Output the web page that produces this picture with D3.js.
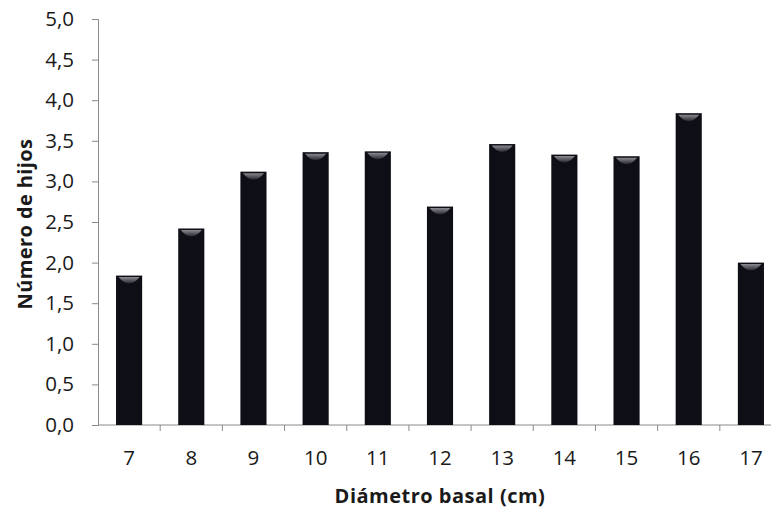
<!DOCTYPE html>
<html>
<head>
<meta charset="utf-8">
<script src="https://cdn.jsdelivr.net/npm/d3@7"></script>
<style>
  html, body { margin: 0; padding: 0; background: #fff; }
  svg { display: block; }
  text { font-family: "Open Sans", Lato, sans-serif; fill: #1a1a1a; }
</style>
</head>
<body>
<svg id="chart" width="771" height="508"></svg>
<script>
// Diámetro basal (cm) vs. número medio de hijos
const categories = ["7", "8", "9", "10", "11", "12", "13", "14", "15", "16", "17"];
const values = [1.84, 2.42, 3.12, 3.36, 3.37, 2.69, 3.46, 3.33, 3.31, 3.84, 2.00];
const yTicks = [0, 0.5, 1, 1.5, 2, 2.5, 3, 3.5, 4, 4.5, 5];

const svg = d3.select("#chart");
const plot = { left: 98, right: 782, top: 19, bottom: 425 };

const x = d3.scaleBand().domain(categories).range([plot.left, plot.right]);
const y = d3.scaleLinear().domain([0, 5]).range([plot.bottom, plot.top]);
const fmt = d => d3.format(".1f")(d).replace(".", ",");

// gradient for the rounded highlight at each bar top
const defs = svg.append("defs");
const g = defs.append("linearGradient").attr("id", "capShade")
  .attr("x1", 0).attr("y1", 0).attr("x2", 0).attr("y2", 1);
g.append("stop").attr("offset", "0%").attr("stop-color", "#a0a0a6");
g.append("stop").attr("offset", "100%").attr("stop-color", "#2a2a30");

// Y axis
const yAxis = svg.append("g")
  .attr("transform", `translate(${plot.left},0)`)
  .call(d3.axisLeft(y).tickValues(yTicks).tickFormat(fmt).tickSize(6).tickPadding(18));
yAxis.select(".domain").attr("stroke", "#8a8a8a");
yAxis.selectAll(".tick line").attr("stroke", "#8a8a8a");
yAxis.selectAll(".tick text").attr("font-size", 20.5).attr("fill", "#1a1a1a")
  .attr("font-family", "'Open Sans', Lato, sans-serif");

// X axis: ticks at category boundaries, labels at centers
const xAxisG = svg.append("g").attr("transform", `translate(0,${plot.bottom})`);
xAxisG.append("line").attr("x1", plot.left).attr("x2", plot.right)
  .attr("stroke", "#8a8a8a");
xAxisG.selectAll("line.tk").data(categories.slice(1))
  .join("line").attr("class", "tk")
  .attr("x1", d => x(d)).attr("x2", d => x(d))
  .attr("y1", 0).attr("y2", 6).attr("stroke", "#8a8a8a");
xAxisG.selectAll("text").data(categories).join("text")
  .attr("x", d => x(d) + x.bandwidth() / 2)
  .attr("y", 40)
  .attr("text-anchor", "middle")
  .attr("font-size", 20.5)
  .text(d => d);

// Bars
const bw = x.bandwidth() * 0.42;
const bars = svg.append("g");
bars.selectAll("rect").data(values).join("rect")
  .attr("x", (d, i) => x(categories[i]) + (x.bandwidth() - bw) / 2)
  .attr("y", d => y(d))
  .attr("width", bw)
  .attr("height", d => y(0) - y(d))
  .attr("fill", "#0e0e16");

// bevel highlight on bar tops
bars.selectAll("path").data(values).join("path")
  .attr("d", (d, i) => {
    const x0 = x(categories[i]) + (x.bandwidth() - bw) / 2 + 2.5;
    const x1 = x0 + bw - 5;
    const yt = y(d) + 1.5;
    return `M${x0},${yt} L${x1},${yt} Q${(x0 + x1) / 2},${yt + 13} ${x0},${yt} Z`;
  })
  .attr("fill", "url(#capShade)")
  .attr("opacity", 0.85);

// Axis titles
svg.append("text")
  .attr("x", 440).attr("y", 503)
  .attr("text-anchor", "middle")
  .attr("font-size", 20).attr("font-weight", "bold")
  .attr("letter-spacing", 0.5)
  .text("Diámetro basal (cm)");

svg.append("text")
  .attr("transform", "translate(32,224) rotate(-90)")
  .attr("text-anchor", "middle")
  .attr("font-size", 20).attr("font-weight", "bold")
  .attr("letter-spacing", 0.4)
  .text("Número de hijos");
</script>
</body>
</html>
